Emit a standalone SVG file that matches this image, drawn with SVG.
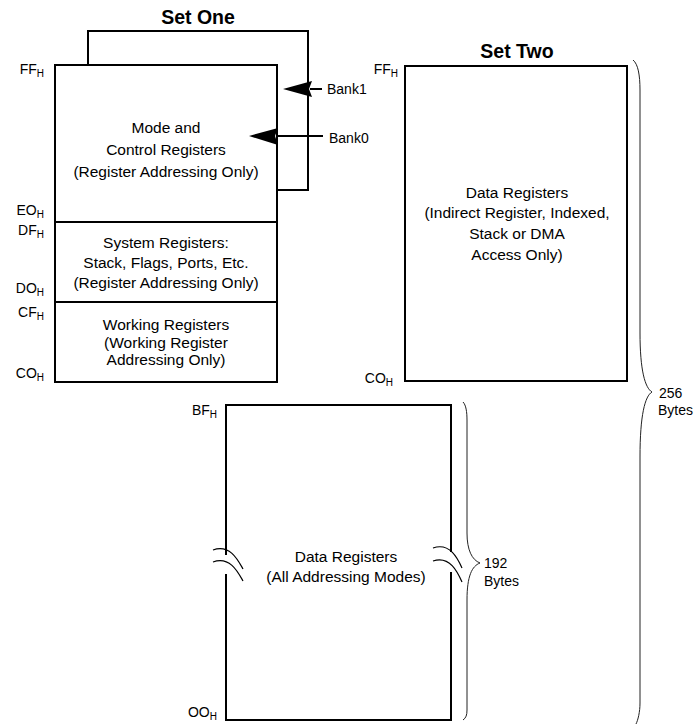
<svg xmlns="http://www.w3.org/2000/svg" width="700" height="724" viewBox="0 0 700 724">
<style>
text{font-family:"Liberation Sans",Arial,sans-serif;fill:#000}
.t{font-size:15.5px;text-anchor:middle}
.title{font-size:19.5px;font-weight:bold;text-anchor:middle}
.lbl{font-size:14px;text-anchor:end}
.lbl tspan{font-size:10px}
.side{font-size:14px}
.box{fill:none;stroke:#000;stroke-width:2}
.brace{fill:none;stroke:#222;stroke-width:1}
.brk{fill:none;stroke:#000;stroke-width:1.2}
.wire{fill:none;stroke:#000;stroke-width:2}
</style>
<rect width="700" height="724" fill="#fff"/>

<g id="set-one">
<text class="title" x="198" y="24">Set One</text>
<path class="box" d="M88,65 V31 H308 V190 H277"/>
<rect class="box" x="55" y="65" width="222" height="317"/>
<line class="box" x1="55" y1="222" x2="277" y2="222"/>
<line class="box" x1="55" y1="302" x2="277" y2="302"/>
</g>

<g id="mode-control">
<text class="t" x="166" y="133">Mode and</text>
<text class="t" x="166" y="155">Control Registers</text>
<text class="t" x="166" y="177">(Register Addressing Only)</text>
</g>
<g id="system-registers">
<text class="t" x="166" y="248">System Registers:</text>
<text class="t" x="166" y="268">Stack, Flags, Ports, Etc.</text>
<text class="t" x="166" y="288">(Register Addressing Only)</text>
</g>
<g id="working-registers">
<text class="t" x="166" y="330">Working Registers</text>
<text class="t" x="166" y="348">(Working Register</text>
<text class="t" x="166" y="365">Addressing Only)</text>
</g>
<g id="set-one-labels">
<text class="lbl" x="44" y="74">FF<tspan dy="3">H</tspan></text>
<text class="lbl" x="44" y="215">EO<tspan dy="3">H</tspan></text>
<text class="lbl" x="44" y="235">DF<tspan dy="3">H</tspan></text>
<text class="lbl" x="44" y="293">DO<tspan dy="3">H</tspan></text>
<text class="lbl" x="44" y="317">CF<tspan dy="3">H</tspan></text>
<text class="lbl" x="44" y="378">CO<tspan dy="3">H</tspan></text>
</g>

<g id="bank1">
<text class="side" x="327" y="94">Bank1</text>
</g>
<g id="bank0">
<text class="side" x="329" y="143">Bank0</text>
</g>

<g id="set-two">
<text class="title" x="517" y="58">Set Two</text>
<rect class="box" x="405" y="66" width="222" height="315"/>
<text class="t" x="517" y="198">Data Registers</text>
<text class="t" x="517" y="218">(Indirect Register, Indexed,</text>
<text class="t" x="517" y="239">Stack or DMA</text>
<text class="t" x="517" y="260">Access Only)</text>
<text class="lbl" x="398" y="74">FF<tspan dy="3">H</tspan></text>
<text class="lbl" x="393" y="383">CO<tspan dy="3">H</tspan></text>
</g>

<g id="data-registers-all">
<path class="box" d="M226,555 V405 H451 V552 M451,572 V720 H226 V574"/>
<path class="brk" d="M213,550 C230,544 238,560 243,569 M213,562 C230,556 238,572 243,581"/>
<path class="brk" d="M433,548 C450,542 458,559 462,568 M433,561 C450,555 458,573 462,582"/>
<text class="t" x="346" y="562">Data Registers</text>
<text class="t" x="346" y="582">(All Addressing Modes)</text>
<text class="lbl" x="217" y="415">BF<tspan dy="3">H</tspan></text>
<text class="lbl" x="217" y="717">OO<tspan dy="3">H</tspan></text>
</g>

<g id="size-192">
<path class="brace" d="M463,402 C466,405 467,412 467,420 V533 C467,550 472,560 480,563 C472,566 467,576 467,600 V710 C467,715 466,718 463,720"/>
<text class="side" x="484" y="568">192</text>
<text class="side" x="484" y="586">Bytes</text>
</g>

<g id="size-256">
<path class="brace" d="M633,60 C638,64 640,75 640,90 V333 C640,370 645,388 652,392 C645,396 640,415 640,457 V703 C640,712 638,720 636,724"/>
<text class="side" x="659" y="398">256</text>
<text class="side" x="658" y="415">Bytes</text>
</g>

<g id="connectors">
<line class="wire" x1="322" y1="89" x2="310" y2="89"/>
<polygon points="283,89 312,81 309,89 312,97" fill="#000"/>
<line class="wire" x1="323" y1="136" x2="276" y2="136"/>
<polygon points="249,136 278,128 275,136 278,145" fill="#000"/>
</g>
</svg>
